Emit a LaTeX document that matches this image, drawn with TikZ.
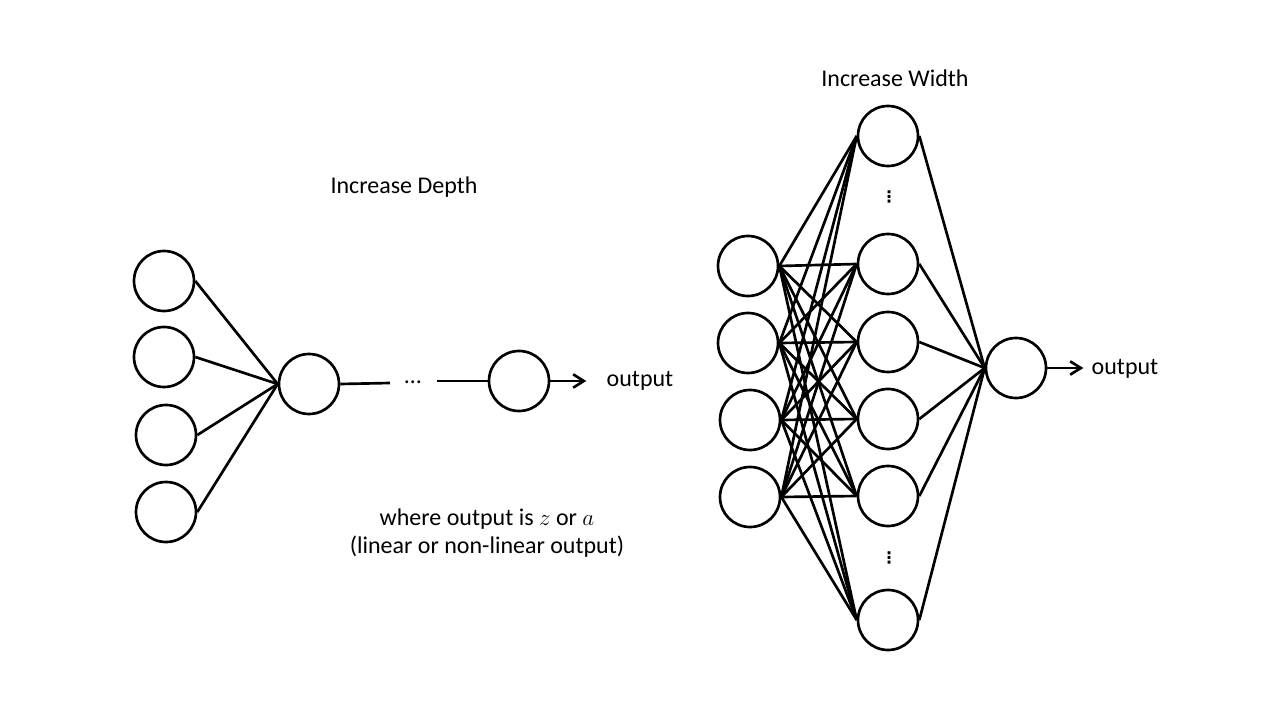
\documentclass[tikz,border=0pt]{standalone}
\usepackage{fontspec}
\setmainfont{Carlito}
\newfontfamily\symfont{DejaVu Sans}
\usetikzlibrary{arrows.meta}

\begin{document}
\begin{tikzpicture}[x=0.75pt,y=-0.75pt,line width=2pt,
  >={Straight Barb[length=8pt,width=10pt]},
  neuron/.style={circle,draw,minimum size=45pt,inner sep=0pt},
  label text/.style={font=\fontsize{18}{20.5}\selectfont,inner sep=0pt},
  dots/.style={font=\symfont\bfseries\fontsize{12}{12}\selectfont,inner sep=0pt}]
  \useasboundingbox (0,0) rectangle (1280,720);

  % increase depth
  \node[label text] (depth) at (404,187) {Increase Depth};
  \node[neuron] (i1) at (164,281) {};
  \node[neuron] (i2) at (164,357) {};
  \node[neuron] (i3) at (166,435) {};
  \node[neuron] (i4) at (166,512) {};
  \node[neuron] (m) at (309,384) {};
  \node[neuron] (n) at (519,381) {};
  \node[label text,anchor=base] (hdots) at (413,383) {\ldots};
  \coordinate (d1) at (390,383);
  \coordinate (d2) at (437,381);
  \node[label text] (out1) at (640,381) {output};
  \foreach \i in {1,...,4}
    \draw (i\i.east) -- (m.west);
  \draw (m.east) -- (d1);
  \draw (d2) -- (n);
  \draw[->] (n.east) -- ++(36,0) coordinate (a1);
  \node[label text,align=center] (note) at (487,533)
    {where output is $z$ or $a$\\(linear or non-linear output)};

  % increase width
  \node[label text] (width) at (895,78) {Increase Width};
  \node[neuron] (r1) at (748,266) {};
  \node[neuron] (r2) at (748,343) {};
  \node[neuron] (r3) at (750,420) {};
  \node[neuron] (r4) at (750,497) {};
  \node[neuron] (h1) at (888,136) {};
  \node[neuron] (h2) at (888,264) {};
  \node[neuron] (h3) at (888,342) {};
  \node[neuron] (h4) at (888,419) {};
  \node[neuron] (h5) at (888,496) {};
  \node[neuron] (h6) at (888,620) {};
  \node[dots] (vd1) at (889,197) {⋮};
  \node[dots] (vd2) at (889,558) {⋮};
  \node[neuron] (o) at (1016,368) {};
  \node[label text] (out2) at (1125,369) {output};
  \foreach \r in {1,...,4}
    \foreach \h in {1,...,6}
      \draw (r\r.east) -- (h\h.west);
  \foreach \h in {1,...,6}
    \draw (h\h.east) -- (o.west);
  \draw[->] (o.east) -- ++(36,0) coordinate (a2);
\end{tikzpicture}
\end{document}
